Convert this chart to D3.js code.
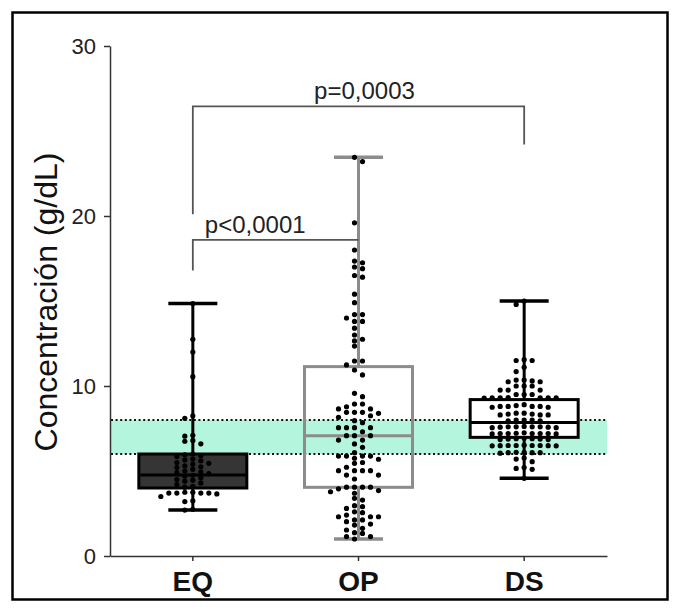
<!DOCTYPE html>
<html>
<head>
<meta charset="utf-8">
<script src="https://cdn.jsdelivr.net/npm/d3@7"></script>
<style>
  body { margin: 0; background: #fff; }
  svg { display: block; }
  text { font-family: Arial, "Liberation Sans", sans-serif; }
</style>
</head>
<body>
<svg id="chart" width="681" height="612"></svg>
<script>
// Groups and box summaries (quartiles and median, g/dL)
const categories = ["EQ", "OP", "DS"];
const q1Values = [4.0, 4.04, 6.98];
const medianValues = [4.76, 7.08, 7.86];
const q3Values = [6.0, 11.14, 9.2];

// Individual measurements per group (g/dL)
const eqValues = [
  14.85, 12.75, 12.0, 10.55, 8.25, 8.1, 7.1, 7.05, 6.8, 6.75, 6.6,
  6.0, 5.95, 5.9, 5.85, 5.7, 5.65, 5.6, 5.5, 5.45, 5.4, 5.3, 5.25, 5.2, 5.1,
  5.0, 4.95, 4.9, 4.85, 4.75, 4.7, 4.6, 4.5, 4.45, 4.4, 4.3, 4.2, 4.1, 4.05,
  3.75, 3.7, 3.7, 3.7, 3.65, 3.7, 3.75, 3.5, 3.25, 3.2, 2.75, 2.7
];
const opValues = [
  23.45, 23.2, 19.6, 18.0, 17.35, 17.25, 16.9, 17.0, 16.4, 16.5, 15.4, 14.9,
  14.2, 14.2, 14.0, 13.8, 13.8, 13.4, 13.0, 12.65, 12.75, 12.35, 11.24, 11.47,
  11.47, 10.94, 10.65,
  9.57, 9.37, 8.94, 8.94, 8.78, 8.65, 8.65, 8.39, 8.45, 8.45, 8.45, 8.25, 8.16,
  7.84, 7.96, 7.55, 7.55, 7.55, 7.55, 7.31, 7.08, 7.08, 7.08, 6.82, 6.82, 6.59,
  6.39, 6.08, 5.88, 5.88, 5.88, 5.88, 5.75, 5.69, 5.45, 5.5, 5.22, 5.02, 5.02,
  5.02, 5.02, 4.76, 4.76, 4.53, 4.05, 4.05, 4.05, 4.05, 3.95, 3.85, 3.69, 3.78,
  3.39, 3.29, 2.96, 2.9, 2.8, 2.55, 2.6, 2.31, 2.41, 2.31, 2.31, 2.12, 2.02,
  2.12, 1.82, 1.88, 1.63, 1.53, 1.33, 1.37, 1.14, 1.14, 1.0
];
const dsValues = [
  15.0, 14.8, 11.55, 11.5, 11.5, 11.1, 10.85, 10.35, 10.3, 10.35, 10.25, 10.25,
  10.0, 10.0, 10.0, 9.76, 9.76, 9.76, 9.5, 9.5, 9.5,
  9.31, 9.31, 9.3, 9.32, 9.3, 9.31, 9.29,
  8.9, 8.8, 8.75, 8.8, 8.75, 8.85, 8.8, 8.8,
  8.4, 8.35, 8.3, 8.35, 8.3, 8.3, 8.4,
  8.0, 8.0, 7.95, 8.0, 7.95,
  7.6, 7.6, 7.58, 7.62, 7.6, 7.55, 7.55, 7.6, 7.58,
  7.2, 7.22, 7.18, 7.25, 7.2, 7.2, 7.2, 7.18, 7.2,
  6.9, 6.88, 6.85, 6.9, 6.88, 6.85, 6.92,
  6.5, 6.49, 6.48, 6.5, 6.52, 6.49, 6.5, 6.48, 6.5,
  6.08, 6.1, 6.05, 6.08, 6.08, 6.1,
  5.76, 5.7, 5.55, 5.2, 5.1, 5.15, 4.57
];
const groupValues = [eqValues, opValues, dsValues];

// Reference interval (shaded band)
const referenceRange = [6, 8];

// Axis ticks
const yTicks = [0, 10, 20, 30];

// Pairwise comparisons
const comparisonPairs = [["EQ", "OP"], ["EQ", "DS"]];
const comparisonLabels = ["p<0,0001", "p=0,0003"];
const comparisonHeights = [18.6, 26.45];
const comparisonLegEnds = [[16.8, 18.6], [20.1, 24.2]];

// ---- drawing ----
const svg = d3.select("#chart");

const x = d3.scaleBand().domain(categories).range([110, 607]).padding(0);
const y = d3.scaleLinear().domain([0, 30]).range([556, 46]);
const cx = c => x(c) + x.bandwidth() / 2;

const boxFill = ["#353535", "none", "#ffffff"];
const boxStroke = ["#000000", "#8c8c8c", "#000000"];
const swarmPhase = [0, 0.5, 0];
const boxWidth = 108, capWidth = 49;

// outer frame
svg.append("rect")
  .attr("x", 12.5).attr("y", 12.5).attr("width", 655).attr("height", 587)
  .attr("fill", "none").attr("stroke", "#000").attr("stroke-width", 2.5);

// reference band
svg.append("rect")
  .attr("x", x.range()[0]).attr("width", x.range()[1] - x.range()[0])
  .attr("y", y(referenceRange[1])).attr("height", y(referenceRange[0]) - y(referenceRange[1]))
  .attr("fill", "#b4f5de");
svg.selectAll(".refline").data(referenceRange).join("line")
  .attr("x1", x.range()[0] + 1).attr("x2", x.range()[1])
  .attr("y1", d => y(d)).attr("y2", d => y(d))
  .attr("stroke", "#111").attr("stroke-width", 2).attr("stroke-dasharray", "2,2.6");

// axes
const yAxis = svg.append("g").attr("transform", "translate(110,0)")
  .call(d3.axisLeft(y).tickValues(yTicks).tickSize(6).tickSizeOuter(0).tickPadding(8));
const xAxis = svg.append("g").attr("transform", "translate(0,556)")
  .call(d3.axisBottom(x).tickSize(5).tickSizeOuter(0).tickPadding(10));
[yAxis, xAxis].forEach(g => {
  g.select(".domain").attr("stroke", "#333").attr("stroke-width", 1.5);
  g.selectAll(".tick line").attr("stroke", "#333").attr("stroke-width", 1.5);
});
yAxis.selectAll(".tick text")
  .attr("font-size", 22).attr("fill", "#222")
  .attr("font-family", "Arial, 'Liberation Sans', sans-serif");
xAxis.selectAll(".tick text")
  .attr("font-size", 28).attr("font-weight", "bold").attr("fill", "#111")
  .attr("font-family", "Arial, 'Liberation Sans', sans-serif");

// y-axis title
svg.append("text")
  .attr("transform", "translate(57,302) rotate(-90)")
  .attr("text-anchor", "middle")
  .attr("font-size", 32).attr("fill", "#111")
  .text("Concentración (g/dL)");

// boxes, whiskers and points
categories.forEach((c, i) => {
  const g = svg.append("g");
  const vals = groupValues[i];
  const lo = d3.min(vals), hi = d3.max(vals);
  const xc = cx(c);
  const sw = 3;

  g.append("rect")
    .attr("x", xc - boxWidth / 2).attr("width", boxWidth)
    .attr("y", y(q3Values[i])).attr("height", y(q1Values[i]) - y(q3Values[i]))
    .attr("fill", boxFill[i]).attr("stroke", boxStroke[i]).attr("stroke-width", sw);
  g.append("line")
    .attr("x1", xc - boxWidth / 2).attr("x2", xc + boxWidth / 2)
    .attr("y1", y(medianValues[i])).attr("y2", y(medianValues[i]))
    .attr("stroke", boxStroke[i]).attr("stroke-width", sw);

  // whiskers (min to Q1, Q3 to max) with caps
  [[q3Values[i], hi], [q1Values[i], lo]].forEach(([a, b]) => {
    g.append("line")
      .attr("x1", xc).attr("x2", xc).attr("y1", y(a)).attr("y2", y(b))
      .attr("stroke", boxStroke[i]).attr("stroke-width", sw);
    g.append("line")
      .attr("x1", xc - capWidth / 2).attr("x2", xc + capWidth / 2)
      .attr("y1", y(b)).attr("y2", y(b))
      .attr("stroke", boxStroke[i]).attr("stroke-width", sw + 0.5);
  });

  // scatter of individual values, spread sideways where they overlap
  const step = 8, minDy = 5;
  const cands = [];
  for (let k = 0; k < 14; k++) {
    if (swarmPhase[i] === 0) { if (k === 0) cands.push(0); else cands.push(-k, k); }
    else cands.push(-(k + 0.5), k + 0.5);
  }
  const placed = [];
  vals.slice().sort((a, b) => b - a).forEach(v => {
    const py = y(v);
    for (const k of cands) {
      if (!placed.some(p => p.k === k && Math.abs(p.py - py) < minDy)) {
        placed.push({ v, py, k });
        break;
      }
    }
  });
  g.selectAll("circle").data(placed).join("circle")
    .attr("cx", d => xc + d.k * step).attr("cy", d => y(d.v))
    .attr("r", 2.6).attr("fill", "#000");
});

// significance brackets
comparisonPairs.forEach((pair, i) => {
  const x1 = cx(pair[0]), x2 = cx(pair[1]);
  const yy = y(comparisonHeights[i]);
  svg.append("path")
    .attr("d", `M${x1},${y(comparisonLegEnds[i][0])}V${yy}H${x2}V${y(comparisonLegEnds[i][1])}`)
    .attr("fill", "none").attr("stroke", "#555").attr("stroke-width", 1.8);
  const t = svg.append("text")
    .attr("y", yy - 7)
    .attr("font-size", 24).attr("fill", "#222")
    .text(comparisonLabels[i]);
  if (i === 0) t.attr("x", x1 + 12).attr("text-anchor", "start");
  else t.attr("x", (x1 + x2) / 2 + 6).attr("text-anchor", "middle");
});
</script>
</body>
</html>
